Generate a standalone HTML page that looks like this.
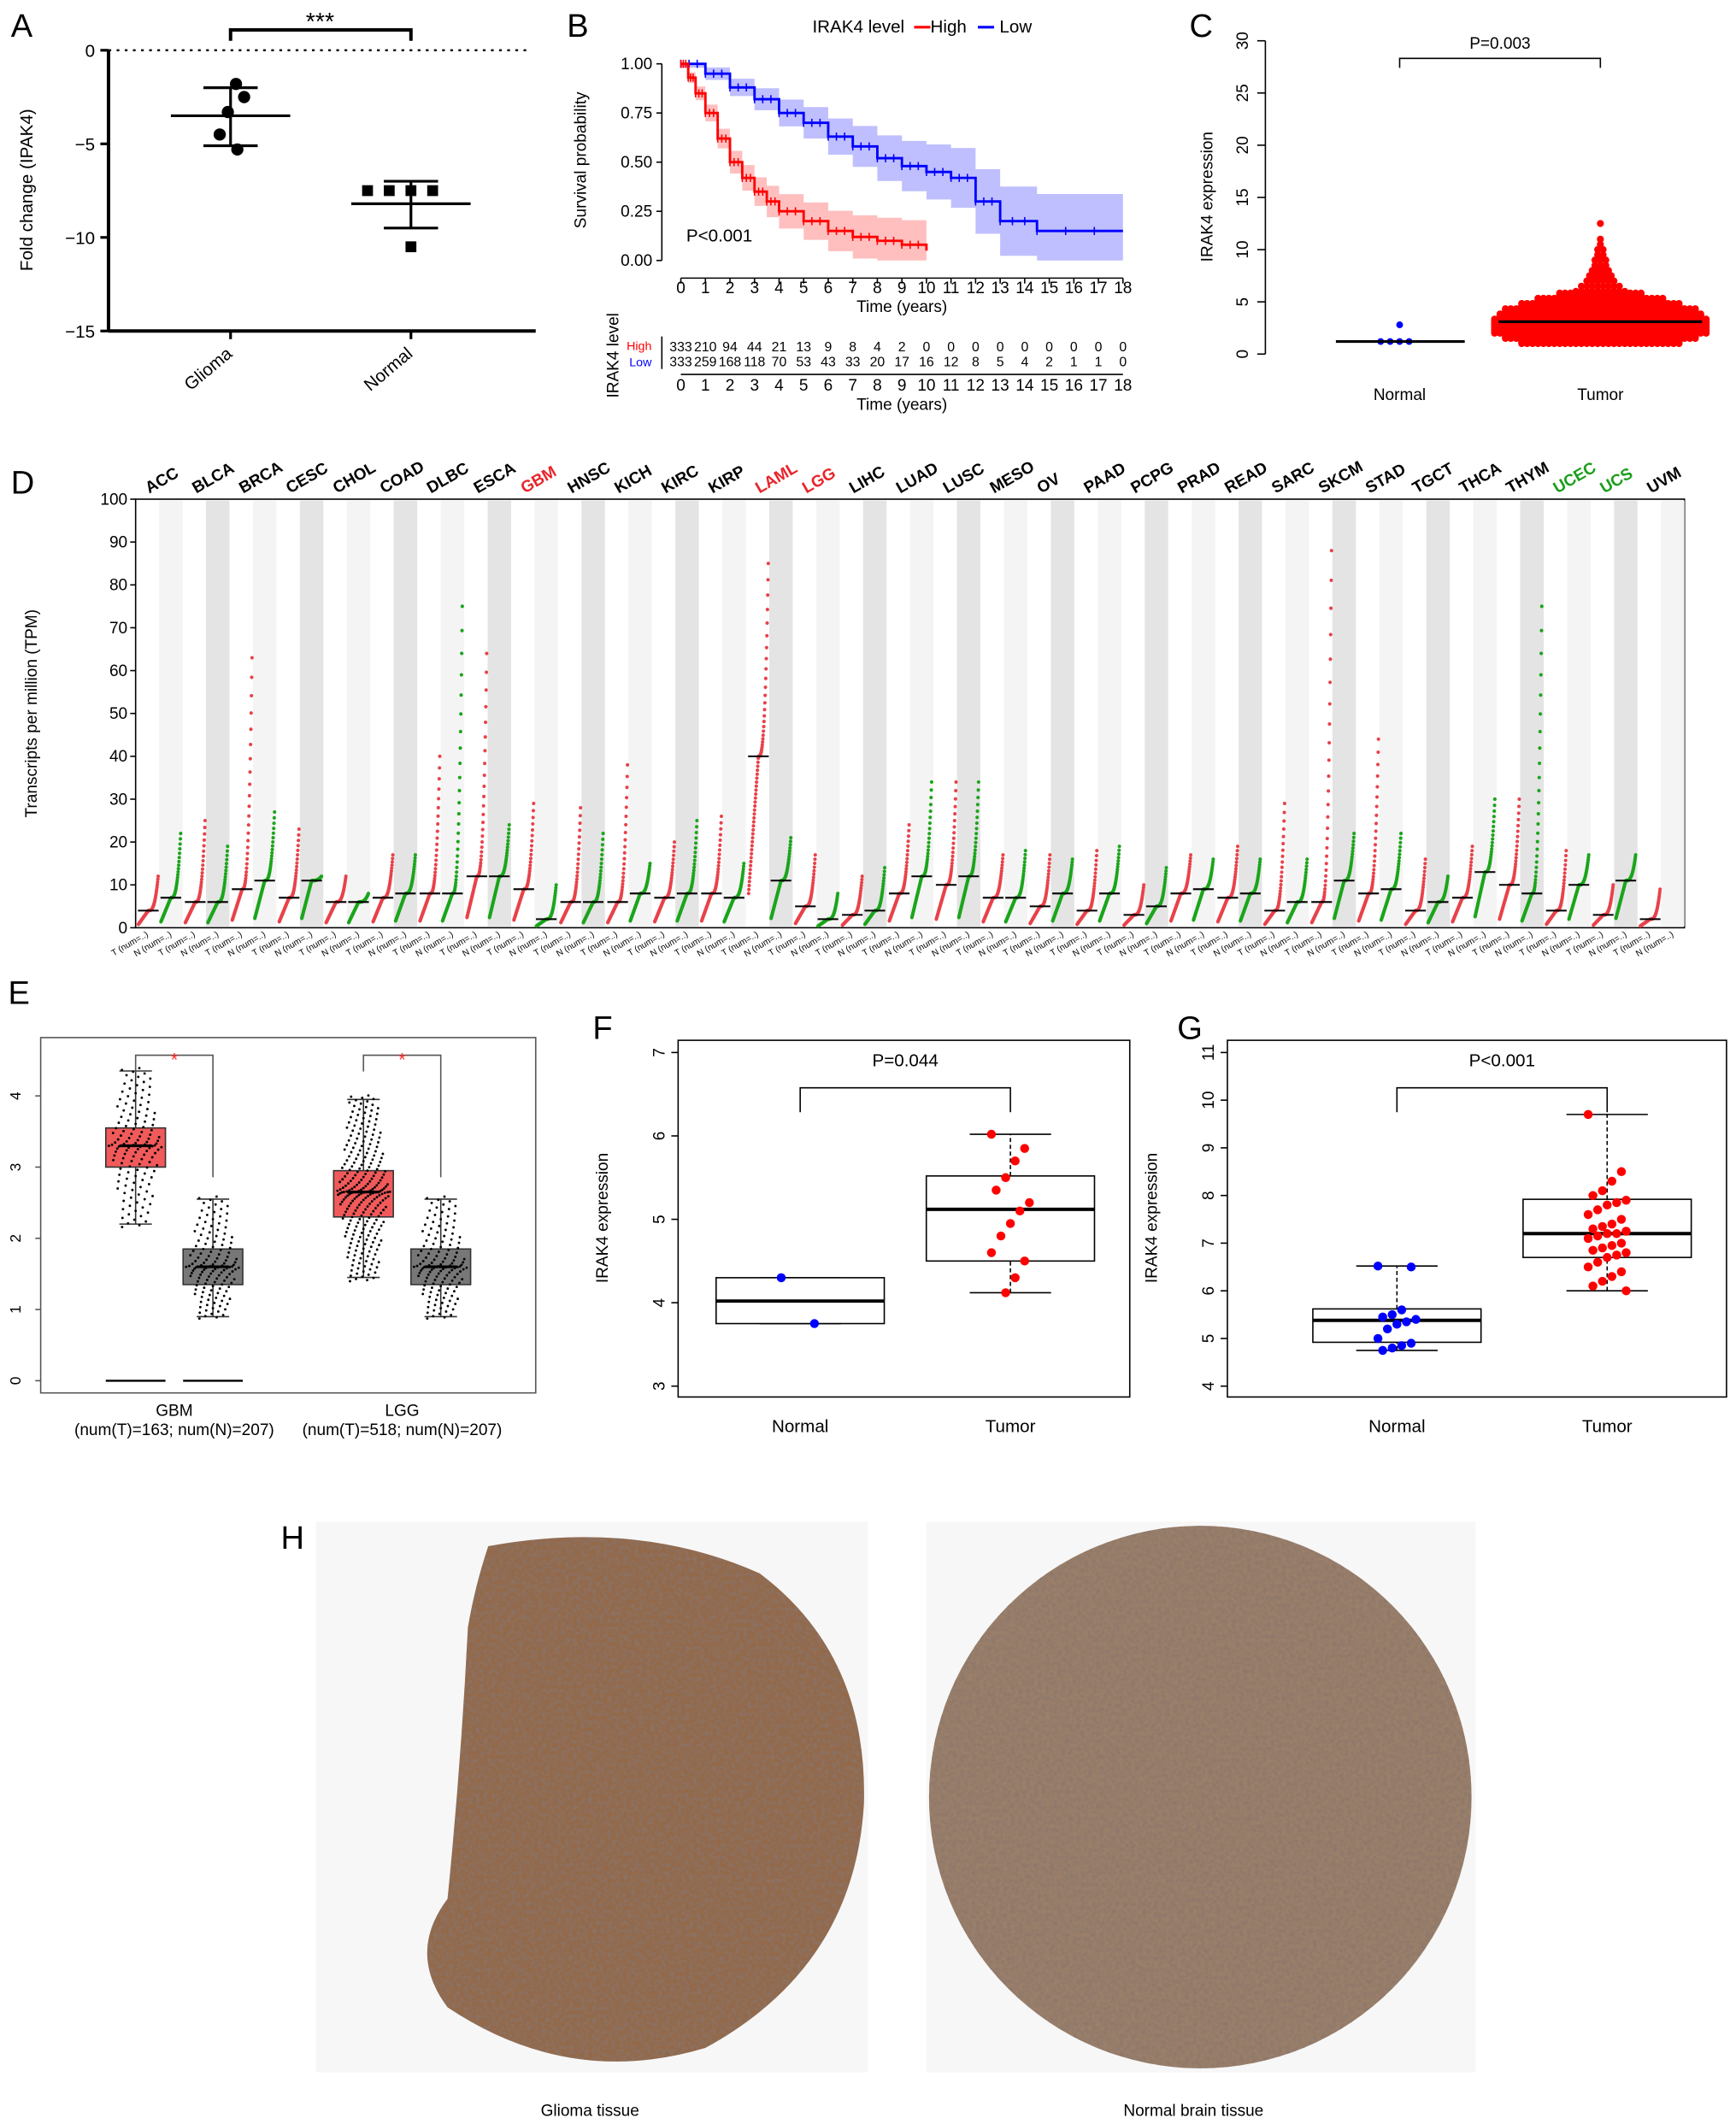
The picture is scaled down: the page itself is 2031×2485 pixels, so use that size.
<!DOCTYPE html>
<html><head><meta charset="utf-8"><style>
html,body{margin:0;padding:0;background:#fff;}
svg{display:block;font-family:"Liberation Sans",Arial,sans-serif;}
</style></head><body>
<svg id="fig" xmlns="http://www.w3.org/2000/svg" width="2031" height="2485" viewBox="0 0 1280 1566">
<rect width="1280" height="1566" fill="#fff"/>
<g id="A"></g>
<g id="B"></g>
<g id="C"></g>
<g id="D"></g>
<g id="E"></g>
<g id="F"></g>
<g id="G"></g>
<g id="H"></g>
</svg>
<script>
// ---------- data ----------
const aGroups=["Glioma","Normal"];
const aGlioma=[-1.8,-2.5,-3.3,-4.5,-5.3];
const aNormal=[-7.5,-7.5,-7.5,-7.5,-10.5];
const aMean=[-3.5,-8.2];
const aSdHi=[-2.0,-7.0];
const aSdLo=[-5.1,-9.5];
const aTicks=[0,-5,-10,-15];

const bHighT=[0,0.3,0.6,1,1.5,2,2.5,3,3.5,4,5,6,7,8,9,10];
const bHighS=[1,0.93,0.85,0.75,0.62,0.5,0.42,0.35,0.3,0.25,0.2,0.15,0.12,0.1,0.08,0.05];
const bLowT=[0,1,2,3,4,5,6,7,8,9,10,11,12,13,14.5,18];
const bLowS=[1,0.95,0.88,0.82,0.75,0.7,0.63,0.58,0.52,0.48,0.45,0.42,0.3,0.2,0.15,0.15];
const bRiskHigh=[333,210,94,44,21,13,9,8,4,2,0,0,0,0,0,0,0,0,0];
const bRiskLow=[333,259,168,118,70,53,43,33,20,17,16,12,8,5,4,2,1,1,0];
const bYTicks=["0.00","0.25","0.50","0.75","1.00"];

const cNormalVals=[1.2,1.2,1.2,1.2,2.8];
const cTumorBins=[1,1.5,2,2.5,3,3.5,4,4.5,5,5.5,6,6.5,7,7.5,8,8.5,9,9.5,10,10.5,11,12.5];
const cTumorCounts=[30,36,40,40,40,38,36,30,24,16,10,8,6,5,4,3,3,2,2,1,1,1];
const cTicks=[0,5,10,15,20,25,30];

const dTypes=["ACC","BLCA","BRCA","CESC","CHOL","COAD","DLBC","ESCA","GBM","HNSC","KICH","KIRC","KIRP","LAML","LGG","LIHC","LUAD","LUSC","MESO","OV","PAAD","PCPG","PRAD","READ","SARC","SKCM","STAD","TGCT","THCA","THYM","UCEC","UCS","UVM"];
const dTMed=[4,6,9,7,6,7,8,12,9,6,6,7,8,40,5,3,8,10,7,5,4,3,8,7,4,6,8,4,7,10,4,3,2];
const dNMed=[7,6,11,11,6,8,8,12,2,6,8,8,7,11,2,4,12,12,7,8,8,5,9,8,6,11,9,6,13,8,10,11,0];
const dTMax=[12,25,63,23,12,17,40,64,29,28,38,20,26,85,17,12,24,34,17,17,18,10,17,19,29,88,44,16,19,30,18,10,9];
const dNMax=[22,19,27,12,8,17,75,24,10,22,15,25,15,21,8,14,34,34,18,16,19,14,16,16,16,22,22,12,30,75,17,17,0];
const dTicks=[0,10,20,30,40,50,60,70,80,90,100];

const eGroups=["GBM","LGG"];
const eTBox=[[3.0,3.3,3.55,2.2,4.35],[2.3,2.65,2.95,1.45,3.95]];
const eNBox=[[1.35,1.6,1.85,0.9,2.55],[1.35,1.6,1.85,0.9,2.55]];
const eTicks=[0,1,2,3,4];

const fNormal=[4.3,3.75];
const fTumor=[6.02,5.85,5.7,5.5,5.35,5.2,5.1,4.95,4.8,4.6,4.5,4.3,4.12];
const fBoxN=[3.75,4.02,4.3,3.75,4.3];
const fBoxT=[4.5,5.12,5.52,4.12,6.02];
const fTicks=[3,4,5,6,7];

const gNormal=[6.52,6.5,5.6,5.5,5.45,5.4,5.35,5.3,5.2,5.0,4.9,4.85,4.8,4.75];
const gTumor=[9.7,8.5,8.3,8.1,8.0,7.9,7.85,7.8,7.7,7.6,7.5,7.4,7.35,7.3,7.25,7.2,7.2,7.15,7.1,7.0,6.95,6.9,6.85,6.8,6.75,6.7,6.6,6.5,6.4,6.3,6.2,6.1,6.0];
const gBoxN=[4.92,5.38,5.62,4.75,6.52];
const gBoxT=[6.7,7.2,7.92,6.0,9.7];
const gTicks=[4,5,6,7,8,9,10,11];

// ---------- helpers ----------
const NS="http://www.w3.org/2000/svg";
function el(parent,tag,attrs,text){const e=document.createElementNS(NS,tag);for(const k in attrs)e.setAttribute(k,attrs[k]);if(text!==undefined)e.textContent=text;parent.appendChild(e);return e;}
function lin(d0,d1,r0,r1){return v=>r0+(v-d0)/(d1-d0)*(r1-r0);}
function label(g,x,y,t,name){const e=el(g,"text",{x:x,y:y,"font-size":24});e.textContent=t;

}

// ---------- Panel A ----------
(function(){const g=document.getElementById("A");
label(g,8,27,"A","panel-a-label");
const y=lin(0,-15,37,244);const xs=[170,303];
el(g,"line",{x1:80,y1:37,x2:80,y2:244,stroke:"#000","stroke-width":2.5});
el(g,"line",{x1:80,y1:244,x2:395,y2:244,stroke:"#000","stroke-width":2.5});
el(g,"line",{x1:80,y1:37,x2:392,y2:37,stroke:"#000","stroke-width":1.5,"stroke-dasharray":"2,4"});
aTicks.forEach(t=>{el(g,"line",{x1:74,y1:y(t),x2:80,y2:y(t),stroke:"#000","stroke-width":2});
const e=el(g,"text",{x:70,y:y(t)+5,"text-anchor":"end","font-size":13},String(t).replace("-","−"));
});
const yl=el(g,"text",{transform:"translate(24,140) rotate(-90)","text-anchor":"middle","font-size":13},"Fold change (IPAK4)");

xs.forEach((x,i)=>{el(g,"line",{x1:x,y1:244,x2:x,y2:250,stroke:"#000","stroke-width":2});
const t=el(g,"text",{transform:`translate(${x+2},262) rotate(-40)`,"text-anchor":"end","font-size":13},aGroups[i]);

el(g,"line",{x1:x-44,y1:y(aMean[i]),x2:x+44,y2:y(aMean[i]),stroke:"#000","stroke-width":2});
el(g,"line",{x1:x,y1:y(aSdHi[i]),x2:x,y2:y(aSdLo[i]),stroke:"#000","stroke-width":2});
el(g,"line",{x1:x-20,y1:y(aSdHi[i]),x2:x+20,y2:y(aSdHi[i]),stroke:"#000","stroke-width":2});
el(g,"line",{x1:x-20,y1:y(aSdLo[i]),x2:x+20,y2:y(aSdLo[i]),stroke:"#000","stroke-width":2});});
const offG=[4,10,-2,-8,5];
aGlioma.forEach((v,i)=>{const c=el(g,"circle",{cx:xs[0]+offG[i],cy:y(v),r:4.5,fill:"#000"});
});
const offN=[-32,-16,0,16,32];
aNormal.forEach((v,i)=>{const r=el(g,"rect",{x:xs[1]+offN[i]*(i==4?0:1)-4,y:y(v)-4,width:8,height:8,fill:"#000"});
});
el(g,"path",{d:"M170,30 V22 H303 V30",fill:"none",stroke:"#000","stroke-width":2.5});
el(g,"text",{x:236,y:22,"text-anchor":"middle","font-size":18},"***");
})();

// ---------- Panel B ----------
(function(){const g=document.getElementById("B");
label(g,418,27,"B","panel-b-label");
const x=lin(0,18,502,828),y=lin(0,1,192,47);
el(g,"line",{x1:488,y1:47,x2:488,y2:192,stroke:"#000"});
el(g,"line",{x1:502,y1:205,x2:828,y2:205,stroke:"#000"});
bYTicks.forEach(t=>{const v=+t;el(g,"line",{x1:484,y1:y(v),x2:488,y2:y(v),stroke:"#000"});
el(g,"text",{x:481,y:y(v)+4,"text-anchor":"end","font-size":12},t);});
for(let i=0;i<=18;i++){el(g,"line",{x1:x(i),y1:205,x2:x(i),y2:209,stroke:"#000"});
el(g,"text",{x:x(i),y:216,"text-anchor":"middle","font-size":12},i);}
el(g,"text",{x:665,y:230,"text-anchor":"middle","font-size":12},"Time (years)");
el(g,"text",{transform:"translate(432,118) rotate(-90)","text-anchor":"middle","font-size":12},"Survival probability");
function curve(T,S,col,name){
let pts=[];T.forEach((t,i)=>{const w=0.02+0.12*i/T.length*(col=="#00f"?1.6:1);const tn=i<T.length-1?T[i+1]:t;pts.push([t,tn,Math.min(1,S[i]+w),Math.max(0,S[i]-w)]);});
let d="M"+pts.map(p=>`${x(p[0])},${y(p[2])} ${x(p[1])},${y(p[2])}`).join(" ")+" "+pts.slice().reverse().map(p=>`${x(p[1])},${y(p[3])} ${x(p[0])},${y(p[3])}`).join(" ")+"Z";
const band=el(g,"path",{d:d,fill:col,"fill-opacity":0.25});

let ln=`M${x(T[0])},${y(S[0])}`;for(let i=1;i<T.length;i++)ln+=` H${x(T[i])} V${y(S[i])}`;
const p=el(g,"path",{d:ln,fill:"none",stroke:col,"stroke-width":1.8});

for(let i=0;i<T.length-1;i++){for(let k=0;k<3;k++){const tt=T[i]+(T[i+1]-T[i])*k/3;el(g,"line",{x1:x(tt),y1:y(S[i])-3,x2:x(tt),y2:y(S[i])+3,stroke:col,"stroke-width":1});}}}
curve(bLowT,bLowS,"#00f","low");curve(bHighT,bHighS,"#f00","high");
el(g,"text",{x:506,y:178,"font-size":13},"P<0.001");
el(g,"text",{x:599,y:24,"font-size":13},"IRAK4 level");
el(g,"line",{x1:674,y1:20,x2:686,y2:20,stroke:"#f00","stroke-width":2});el(g,"text",{x:686,y:24,"font-size":13},"High");
el(g,"line",{x1:721,y1:20,x2:733,y2:20,stroke:"#00f","stroke-width":2});el(g,"text",{x:737,y:24,"font-size":13},"Low");
el(g,"line",{x1:488,y1:248,x2:488,y2:272,stroke:"#000"});
el(g,"line",{x1:502,y1:276,x2:828,y2:276,stroke:"#000"});
el(g,"text",{x:462,y:258,"font-size":9,fill:"#f00"},"High");el(g,"text",{x:464,y:270,"font-size":9,fill:"#00f"},"Low");
el(g,"text",{transform:"translate(456,262) rotate(-90)","text-anchor":"middle","font-size":12},"IRAK4 level");
for(let i=0;i<=18;i++){el(g,"text",{x:x(i),y:259,"text-anchor":"middle","font-size":10},bRiskHigh[i]);
el(g,"text",{x:x(i),y:270,"text-anchor":"middle","font-size":10},bRiskLow[i]);
el(g,"text",{x:x(i),y:288,"text-anchor":"middle","font-size":12},i);}
el(g,"text",{x:665,y:302,"text-anchor":"middle","font-size":12},"Time (years)");
})();

// ---------- Panel C ----------
(function(){const g=document.getElementById("C");
label(g,877,27,"C","panel-c-label");
const y=lin(0,30,261,30);
el(g,"line",{x1:933,y1:30,x2:933,y2:261,stroke:"#000"});
cTicks.forEach(t=>{el(g,"line",{x1:927,y1:y(t),x2:933,y2:y(t),stroke:"#000"});
el(g,"text",{transform:`translate(${920},${y(t)}) rotate(-90)`,"text-anchor":"middle","font-size":12},t);});
el(g,"text",{transform:"translate(894,145) rotate(-90)","text-anchor":"middle","font-size":12},"IRAK4 expression");
el(g,"text",{x:1032,y:295,"text-anchor":"middle","font-size":12},"Normal");
el(g,"text",{x:1180,y:295,"text-anchor":"middle","font-size":12},"Tumor");
el(g,"path",{d:"M1032,50 V43 H1180 V50",fill:"none",stroke:"#000"});
el(g,"text",{x:1106,y:36,"text-anchor":"middle","font-size":12},"P=0.003");
const off=[-14,-7,0,7,0];
cNormalVals.forEach((v,i)=>{const c=el(g,"circle",{cx:1032+off[i],cy:y(v),r:2.5,fill:"#00f"});
});
el(g,"line",{x1:985,y1:y(1.2),x2:1080,y2:y(1.2),stroke:"#000","stroke-width":2});
cTumorBins.forEach((v,i)=>{const n=cTumorCounts[i];for(let k=0;k<n;k++){for(let r=0;r<(v<6?3:1);r++){
const cx=1180+(k-(n-1)/2)*4;
const c=el(g,"circle",{cx:cx,cy:y(v+r*0.17),r:2.6,fill:"#f00"});
}}});
el(g,"line",{x1:1105,y1:y(3.1),x2:1255,y2:y(3.1),stroke:"#000","stroke-width":2});
})();

// ---------- Panel D ----------
(function(){const g=document.getElementById("D");
label(g,8,364,"D","panel-d-label");
const L=100,R=1242,T=368,B=684;const y=lin(0,100,B,T);
const n=dTypes.length,w=(R-L)/n;
el(g,"rect",{x:L,y:T,width:R-L,height:B-T,fill:"#fff",stroke:"#000"});
for(let i=0;i<n;i++){const x0=L+i*w;
el(g,"rect",{x:x0+w/2,y:T+1,width:w/2,height:B-T-2,fill:i%2?"#e4e4e4":"#f4f4f4"});
const col=["GBM","LAML","LGG"].includes(dTypes[i])?"#e8242a":(["UCEC","UCS"].includes(dTypes[i])?"#1a9e1a":"#000");
const t=el(g,"text",{transform:`translate(${x0+10},${T-4}) rotate(-30)`,"font-size":12,"font-weight":"bold",fill:col},dTypes[i]);

function cloud(cx,med,max,c){if(max<=0)return;const N=70;
for(let k=0;k<N;k++){const q=k/(N-1);const v=q<0.5?med*(0.2+1.6*q):med+(max-med)*Math.pow((q-0.5)*2,3);
const dx=(q-0.5)*w*0.42;const p=el(g,"circle",{cx:cx+dx,cy:y(v),r:1.3,fill:c});
}
const m=el(g,"line",{x1:cx-w*0.22,y1:y(med),x2:cx+w*0.22,y2:y(med),stroke:"#000","stroke-width":1.3});
}
cloud(x0+w*0.27,dTMed[i],dTMax[i],"#e8424a");cloud(x0+w*0.75,dNMed[i],dNMax[i],"#1aa51a");
for(let k=0;k<2;k++){el(g,"text",{transform:`translate(${x0+w*(0.28+0.5*k)},${B+6}) rotate(-30)`,"text-anchor":"end","font-size":6.5},k?"N (num=..)":"T (num=..)");}}
dTicks.forEach(t=>{el(g,"line",{x1:L-4,y1:y(t),x2:L,y2:y(t),stroke:"#000"});
el(g,"text",{x:L-6,y:y(t)+4,"text-anchor":"end","font-size":12},t);});
el(g,"text",{transform:"translate(27,526) rotate(-90)","text-anchor":"middle","font-size":12},"Transcripts per million (TPM)");
})();

// ---------- Panel E ----------
(function(){const g=document.getElementById("E");
label(g,6,740,"E","panel-e-label");
const y=lin(0,4,1018,808);
el(g,"rect",{x:30,y:765,width:365,height:262,fill:"#fff",stroke:"#555"});
eTicks.forEach(t=>{el(g,"line",{x1:26,y1:y(t),x2:30,y2:y(t),stroke:"#555"});
el(g,"text",{transform:`translate(15,${y(t)}) rotate(-90)`,"text-anchor":"middle","font-size":11},t);});
const xs=[[100,157],[268,325]];
eGroups.forEach((gr,i)=>{
el(g,"text",{x:(xs[i][0]+xs[i][1])/2,y:1044,"text-anchor":"middle","font-size":12},gr);
el(g,"text",{x:(xs[i][0]+xs[i][1])/2,y:1058,"text-anchor":"middle","font-size":12},i?"(num(T)=518; num(N)=207)":"(num(T)=163; num(N)=207)");
[[eTBox[i],xs[i][0],"#f15a5a"],[eNBox[i],xs[i][1],"#777"]].forEach(([b,cx,c])=>{
el(g,"line",{x1:cx,y1:y(b[3]),x2:cx,y2:y(b[4]),stroke:"#333"});
el(g,"line",{x1:cx-12,y1:y(b[3]),x2:cx+12,y2:y(b[3]),stroke:"#333"});
el(g,"line",{x1:cx-12,y1:y(b[4]),x2:cx+12,y2:y(b[4]),stroke:"#333"});
const r=el(g,"rect",{x:cx-22,y:y(b[2]),width:44,height:y(b[0])-y(b[2]),fill:c,stroke:"#333"});

const N=cx==xs[i][0]&&i==1?260:140;
for(let k=0;k<N;k++){const q=(k+0.5)/N;const z=(q-0.5)*2;const v=b[1]+(z>0?(b[4]-b[1]):(b[1]-b[3]))*Math.sign(z)*Math.pow(Math.abs(z),1.6)*1.05;
const dx=((k*37)%23-11)*1.8*(1-0.5*Math.abs(z));el(g,"circle",{cx:cx+dx,cy:y(v),r:0.9,fill:"#000"});}
el(g,"line",{x1:cx-12,y1:y(b[1]),x2:cx+12,y2:y(b[1]),stroke:"#000","stroke-width":2});});
if(i==0){el(g,"line",{x1:xs[i][0]-22,y1:y(0),x2:xs[i][0]+22,y2:y(0),stroke:"#000","stroke-width":1.5});el(g,"line",{x1:xs[i][1]-22,y1:y(0),x2:xs[i][1]+22,y2:y(0),stroke:"#000","stroke-width":1.5});}
el(g,"path",{d:`M${xs[i][0]},790 V778 H${xs[i][1]} V868`,fill:"none",stroke:"#555"});
el(g,"text",{x:(xs[i][0]+xs[i][1])/2,y:786,"text-anchor":"middle","font-size":14,fill:"#f33"},"*");});
})();

// ---------- Panels F & G ----------
function boxPanel(id,L,Rr,lab,lx,ticks,d0,d1,boxN,boxT,ptsN,ptsT,ptxt,xN,xT){
const g=document.getElementById(id);label(g,lx,766,lab,"panel-"+id.toLowerCase()+"-label");
const y=lin(d0,d1,1022,776);
el(g,"rect",{x:L,y:767,width:Rr-L,height:263,fill:"none",stroke:"#000"});
ticks.forEach(t=>{el(g,"line",{x1:L-5,y1:y(t),x2:L,y2:y(t),stroke:"#000"});
el(g,"text",{transform:`translate(${L-10},${y(t)}) rotate(-90)`,"text-anchor":"middle","font-size":12},t);});
el(g,"text",{transform:`translate(${L-52},898) rotate(-90)`,"text-anchor":"middle","font-size":12},"IRAK4 expression");
el(g,"text",{x:xN,y:1056,"text-anchor":"middle","font-size":13},"Normal");
el(g,"text",{x:xT,y:1056,"text-anchor":"middle","font-size":13},"Tumor");
el(g,"path",{d:`M${xN},820 V802 H${xT} V820`,fill:"none",stroke:"#000"});
el(g,"text",{x:(xN+xT)/2,y:786,"text-anchor":"middle","font-size":13},ptxt);
[[boxN,xN],[boxT,xT]].forEach(([b,cx])=>{
el(g,"line",{x1:cx,y1:y(b[3]),x2:cx,y2:y(b[0]),stroke:"#000","stroke-dasharray":"3,2"});
el(g,"line",{x1:cx,y1:y(b[2]),x2:cx,y2:y(b[4]),stroke:"#000","stroke-dasharray":"3,2"});
el(g,"line",{x1:cx-30,y1:y(b[3]),x2:cx+30,y2:y(b[3]),stroke:"#000"});
el(g,"line",{x1:cx-30,y1:y(b[4]),x2:cx+30,y2:y(b[4]),stroke:"#000"});
const r=el(g,"rect",{x:cx-62,y:y(b[2]),width:124,height:y(b[0])-y(b[2]),fill:"#fff",stroke:"#000"});

el(g,"line",{x1:cx-62,y1:y(b[1]),x2:cx+62,y2:y(b[1]),stroke:"#000","stroke-width":2.5});});
[[ptsN,xN,"#00f"],[ptsT,xT,"#f00"]].forEach(([p,cx,c])=>{p.forEach((v,i)=>{
const dx=((i*7)%9-4)*3.5;const cc=el(g,"circle",{cx:cx+dx,cy:y(v),r:3.3,fill:c});
});});}
boxPanel("F",500,833,"F",437,fTicks,3,7,fBoxN,fBoxT,fNormal,fTumor,"P=0.044",590,745);
boxPanel("G",905,1273,"G",868,gTicks,4,11,gBoxN,gBoxT,gNormal,gTumor,"P<0.001",1030,1185);

// ---------- Panel H ----------
(function(){const g=document.getElementById("H");
label(g,207,1142,"H","panel-h-label");
el(g,"defs",{}).innerHTML='<filter id="spk" x="0" y="0" width="100%" height="100%"><feTurbulence type="fractalNoise" baseFrequency="0.35" numOctaves="2" seed="3" result="n"/><feColorMatrix in="n" type="matrix" values="0 0 0 0 0.25  0 0 0 0 0.18  0 0 0 0 0.15  0 0 0 -1.6 1.05" result="m"/><feComposite in="m" in2="SourceGraphic" operator="in" result="c"/><feMerge><feMergeNode in="SourceGraphic"/><feMergeNode in="c"/></feMerge></filter>';
el(g,"rect",{x:233,y:1122,width:407,height:406,fill:"#f7f7f7"});
el(g,"rect",{x:683,y:1122,width:405,height:406,fill:"#f7f7f7"});
const l=el(g,"path",{d:"M360,1140 Q470,1120 560,1160 Q640,1220 637,1330 Q630,1450 520,1510 Q420,1540 330,1480 Q300,1440 330,1400 Q340,1300 345,1200 Q350,1170 360,1140Z",fill:"#93694a",filter:"url(#spk)"});

const r=el(g,"circle",{cx:885,cy:1325,r:200,fill:"#9a7f6a",filter:"url(#spk)"});

el(g,"text",{x:435,y:1560,"text-anchor":"middle","font-size":12},"Glioma tissue");
el(g,"text",{x:880,y:1560,"text-anchor":"middle","font-size":12},"Normal brain tissue");
})();
</script>
</body></html>
